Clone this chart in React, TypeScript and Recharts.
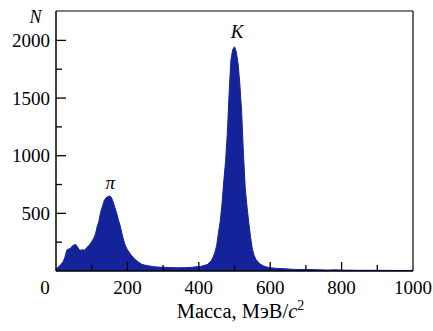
import React from 'react';
import { AreaChart, Area, XAxis, YAxis, ReferenceLine, ReferenceDot } from 'recharts';

// mass bins (MeV/c^2) and event counts
const masses = [
  0, 5, 10, 15, 20, 25, 30, 35, 40, 45, 50, 55, 60, 65, 70, 75, 80, 85, 90, 95,
  100, 105, 110, 115, 120, 125, 130, 135, 140, 145, 150, 155, 160, 165, 170, 175,
  180, 185, 190, 195, 200, 210, 220, 230, 240, 250, 260, 270, 280, 300, 320, 340,
  360, 380, 395, 405, 415, 425, 435, 440, 445, 450, 455, 460, 465, 470, 475, 480,
  485, 490, 495, 500, 505, 510, 515, 520, 525, 530, 535, 540, 545, 550, 555, 560,
  570, 580, 590, 600, 620, 640, 660, 680, 700, 720, 740, 760, 780, 800, 850, 900,
  950, 1000,
];
const counts = [
  20, 30, 45, 60, 80, 120, 180, 190, 195, 215, 225, 230, 210, 185, 180, 185, 180, 200, 215, 230,
  255, 280, 315, 380, 430, 510, 560, 610, 635, 645, 650, 640, 600, 550, 500, 440,
  390, 320, 260, 215, 185, 140, 105, 80, 58, 50, 44, 40, 35, 32, 30, 28,
  29, 32, 37, 40, 48, 58, 90, 120, 160, 220, 330, 430, 580, 780, 950, 1200,
  1550, 1830, 1920, 1945, 1900, 1800, 1620, 1380, 1020, 720, 560, 420, 290, 190, 135, 100,
  65, 45, 35, 28, 22, 20, 15, 12, 14, 12, 10, 8, 10, 8, 6, 6,
  5, 5,
];

const xTicks = [0, 100, 200, 300, 400, 500, 600, 700, 800, 900, 1000];
const yTicks = [250, 500, 750, 1000, 1250, 1500, 1750, 2000];
const yMax = 2255;

const peakNames = ['π', 'K'];
const peakMasses = [152, 507];
const peakCounts = [715, 2020];

const data = masses.map((m, i) => ({ mass: m, n: counts[i] }));

const FILL = '#14239a';
const txt: React.CSSProperties = { fontFamily: "'Liberation Serif', 'Times New Roman', serif", fontSize: 19 };
const itxt: React.CSSProperties = { ...txt, fontStyle: 'italic' };

const XTick = (props: any) => {
  const { x, y, payload } = props;
  const v = payload.value;
  const major = v % 200 === 0;
  return (
    <g>
      {v > 0 && v < 1000 && (
        <line x1={x} y1={y} x2={x} y2={y - (major ? 9 : 6)} stroke="#000" strokeWidth={1.3} />
      )}
      {major && (
        <text x={v === 0 ? x - 11 : x} y={y + 23} textAnchor="middle" style={txt} fill="#000">
          {v}
        </text>
      )}
    </g>
  );
};

const YTick = (props: any) => {
  const { x, y, payload } = props;
  const v = payload.value;
  const major = v % 500 === 0;
  return (
    <g>
      <line x1={x} y1={y} x2={x + (major ? 10 : 6)} y2={y} stroke="#000" strokeWidth={1.3} />
      {major && (
        <text x={x - 6} y={y + 6.5} textAnchor="end" style={txt} fill="#000">
          {v}
        </text>
      )}
    </g>
  );
};

const PeakName = (name: string) => (props: any) => (
  <text x={props.cx} y={props.cy} textAnchor="middle" style={itxt} fill="#000">
    {name}
  </text>
);

export default function App() {
  return (
    <div style={{ position: 'absolute', left: 0, top: 0 }}>
      <AreaChart width={433} height={331} data={data} margin={{ top: 11, right: 20, bottom: 20, left: 0 }}>
        <XAxis
          dataKey="mass"
          type="number"
          domain={[0, 1000]}
          ticks={xTicks}
          interval={0}
          tickLine={false}
          tickSize={0}
          tickMargin={0}
          tick={<XTick />}
          height={40}
          axisLine={{ stroke: '#000', strokeWidth: 1.5 }}
          label={{
            content: (p: any) => (
              <text
                x={p.viewBox.x + p.viewBox.width / 2 + 6}
                y={p.viewBox.y + 47}
                textAnchor="middle"
                style={{ ...txt, fontSize: 20.5 }}
                fill="#000"
              >
                Масса, МэВ/<tspan style={{ fontStyle: 'italic' }}>c</tspan>
                <tspan dy={-8} style={{ fontSize: 14 }}>2</tspan>
              </text>
            ),
          }}
        />
        <YAxis
          type="number"
          domain={[0, yMax]}
          ticks={yTicks}
          interval={0}
          width={56}
          tickLine={false}
          tickSize={0}
          tickMargin={0}
          tick={<YTick />}
          axisLine={{ stroke: '#000', strokeWidth: 1.5 }}
          label={{
            content: (p: any) => (
              <text x={p.viewBox.x + 35.5} y={p.viewBox.y + 12} textAnchor="middle" style={{ ...itxt, fontSize: 18 }} fill="#000">
                N
              </text>
            ),
          }}
        />
        <ReferenceLine y={yMax} stroke="#000" strokeWidth={1.2} />
        <ReferenceLine x={1000} stroke="#000" strokeWidth={1.2} />
        <Area
          type="linear"
          dataKey="n"
          stroke={FILL}
          strokeWidth={1}
          fill={FILL}
          fillOpacity={1}
          isAnimationActive={false}
        />
        {peakNames.map((name, i) => (
          <ReferenceDot key={name} x={peakMasses[i]} y={peakCounts[i]} r={0} shape={PeakName(name)} />
        ))}
      </AreaChart>
    </div>
  );
}
